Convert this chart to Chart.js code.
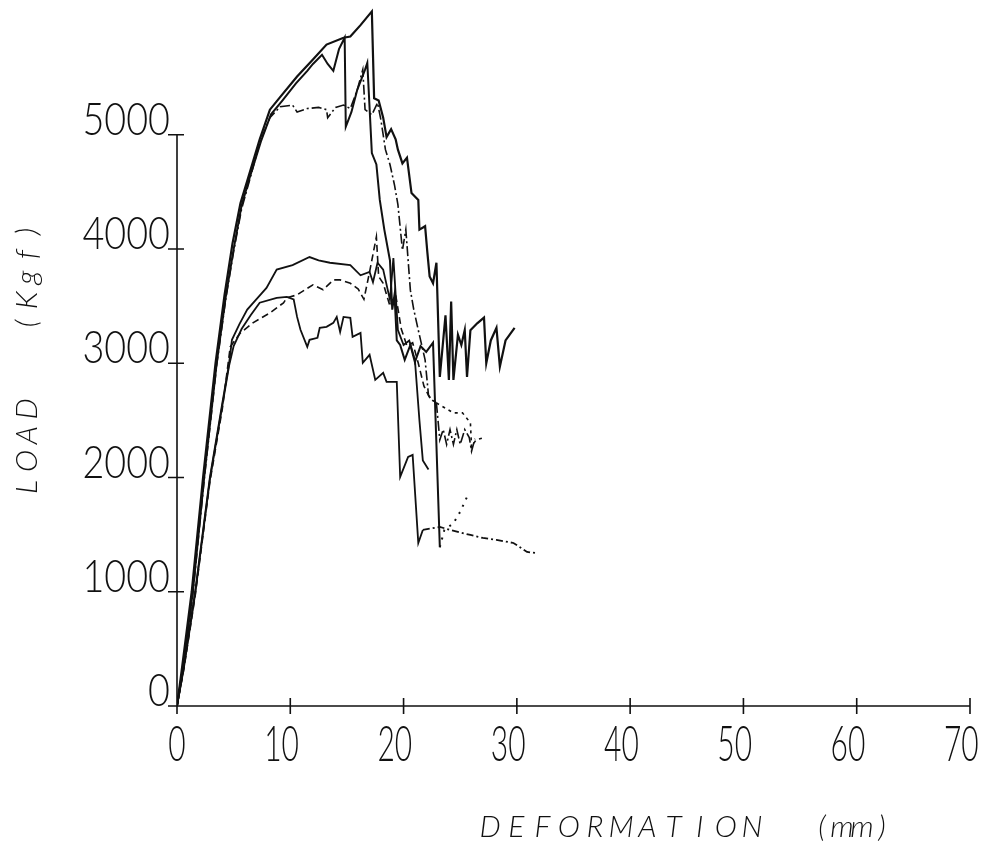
<!DOCTYPE html>
<html lang="en">

<head>
    <meta charset="UTF-8">
    <title>Load x Deformation</title>
    <!--Link ChartJs-->
    <script src="https://cdn.jsdelivr.net/npm/chart.js"></script>
    <style>
        body { margin: 0; background: #fff; }
        #caixa { width: 985px; height: 844px; }
    </style>
</head>

<body>
    <div id="caixa">
        <canvas id="grafico" width="985" height="844"></canvas>
    </div>

<script>
    // ticks dos eixos
    const xTicks = [0, 10, 20, 30, 40, 50, 60, 70];
    const yTicks = [0, 1000, 2000, 3000, 4000, 5000];

    // corpo de prova A (pico mais alto, termina oscilando ~3300)
    const defA = [0, 0.4, 1.3, 2.3, 3.4, 4.2, 4.9, 5.6, 6.3, 7.3, 8.2, 9.1, 10.6, 12.0, 13.2, 14.7, 15.3, 16.2, 17.2,
        17.4, 17.8, 18.2, 18.5, 18.9, 19.3, 19.5, 19.9, 20.3, 20.7, 21.3, 21.4, 21.9, 22.1, 22.3, 22.6, 22.9,
        23.2, 23.7, 24.0, 24.2, 24.4, 24.8, 25.1, 25.4, 25.6, 25.9, 26.5, 27.1, 27.3, 27.7, 28.2, 28.5, 29.0, 29.8];
    const cargaA = [0, 300, 1000, 2000, 3000, 3600, 4050, 4400, 4630, 4960, 5220, 5330, 5510, 5660, 5790, 5850, 5860, 5960, 6080,
        5320, 5300, 5150, 4980, 5050, 4960, 4870, 4750, 4800, 4490, 4430, 4170, 4200, 3970, 3760, 3700, 3880,
        2880, 3420, 2855, 3540, 2855, 3250, 3160, 3290, 2880, 3290, 3350, 3400, 3000, 3200, 3310, 2970, 3200, 3310];

    // corpo de prova B (cai para ~1400 e sobe pontilhado)
    const defB = [0, 0.5, 1.4, 2.4, 3.5, 4.3, 5.0, 5.7, 6.4, 7.4, 8.3, 9.3, 10.5, 11.5, 12.0, 12.8, 13.3, 13.8, 14.3, 14.8,
        14.9, 15.4, 15.9, 16.6, 16.8, 17.2, 17.6, 17.9, 18.3, 18.8, 19.0, 19.2, 19.4, 19.7, 20.1, 20.6, 21.0, 21.5,
        22.0, 22.6, 23.2, 23.6, 24.4, 25.0, 25.6];
    const cargaB = [0, 320, 1000, 2000, 3000, 3580, 4000, 4380, 4620, 4940, 5180, 5300, 5450, 5560, 5620, 5700, 5620, 5560, 5750, 5850,
        5070, 5200, 5390, 5570, 5630, 4840, 4740, 4430, 4170, 3900, 3470, 3600, 3200, 3160, 3030, 3160, 3010, 3150,
        3100, 3180, 1390, 1540, 1600, 1700, 1830];

    // corpo de prova C (patamar ~5250)
    const defC = [0, 0.5, 1.4, 2.4, 3.5, 4.3, 5.0, 5.7, 6.4, 7.3, 8.2, 9.1, 10.2, 10.6, 11.5, 12.5, 13.2, 13.3, 14.0, 14.7,
        15.3, 15.9, 16.4, 16.6, 17.2, 17.7, 18.0, 18.4, 18.8, 19.2, 19.5, 19.9, 20.2, 20.6, 20.9, 21.3, 21.6, 21.9,
        22.2, 22.5, 22.9, 23.2, 23.5, 23.8, 24.1, 24.4, 24.7, 25.0, 25.4, 25.8, 26.0, 26.3];
    const cargaC = [0, 280, 980, 1980, 2980, 3560, 3980, 4350, 4600, 4930, 5150, 5245, 5260, 5200, 5230, 5240, 5220, 5150, 5240, 5260,
        5230, 5390, 5570, 5220, 5175, 5280, 5130, 4870, 4740, 4560, 4390, 3990, 4170, 3640, 3470, 3290, 3160, 3030,
        2720, 2680, 2650, 2330, 2420, 2290, 2420, 2290, 2420, 2290, 2420, 2350, 2230, 2340];

    // corpo de prova D (pico ~3900)
    const defD = [0, 0.6, 1.6, 2.9, 4.0, 4.6, 4.85, 5.5, 6.2, 7.0, 7.9, 8.8, 10.2, 11.7, 12.5, 13.5, 15.3, 16.2, 17.0, 17.3,
        17.7, 18.2, 18.8, 19.1, 19.5, 20.0, 20.5, 21.0, 21.4, 21.7, 22.2];
    const cargaD = [0, 350, 1000, 2000, 2650, 3000, 3205, 3340, 3470, 3560, 3660, 3820, 3860, 3930, 3900, 3880, 3860, 3770, 3800, 3710,
        3880, 3820, 3555, 3920, 3290, 3160, 3200, 3030, 2500, 2150, 2070];

    // corpo de prova E (pico ~3580, escadas, termina ~1340)
    const defE = [0, 0.6, 1.6, 2.9, 4.0, 4.6, 5.0, 5.7, 6.5, 7.3, 8.8, 9.7, 10.3, 10.6, 10.9, 11.5, 11.7, 12.4, 12.6, 13.2,
        13.8, 14.1, 14.4, 14.7, 15.3, 15.5, 16.2, 16.4, 17.0, 17.5, 18.2, 18.5, 19.4, 19.7, 20.4, 20.8, 21.3, 21.7,
        23.2, 24.1, 25.9, 27.0, 28.2, 29.7, 30.9, 31.6];
    const cargaE = [0, 330, 980, 1980, 2630, 2980, 3150, 3300, 3420, 3530, 3573, 3582, 3560, 3406, 3293, 3144, 3205, 3223, 3310, 3319,
        3354, 3406, 3275, 3406, 3398, 3231, 3266, 3004, 3074, 2855, 2916, 2837, 2837, 2005, 2180, 2198, 1427, 1541,
        1568, 1541, 1497, 1471, 1454, 1427, 1349, 1340];

    // corpo de prova F (tracejado, pico ~4100, termina ~2350)
    const defF = [0, 0.6, 1.6, 2.9, 4.0, 4.7, 5.6, 6.7, 8.2, 9.4, 9.7, 10.6, 12.0, 12.9, 13.8, 14.4, 15.3, 16.0, 16.5, 17.0,
        17.6, 17.8, 18.2, 18.8, 19.3, 19.8, 20.3, 20.8, 21.3, 21.8, 22.3, 22.9, 24.4, 25.2, 25.9, 26.0, 26.4, 27.0];
    const cargaF = [0, 320, 960, 1960, 2600, 3144, 3266, 3354, 3441, 3529, 3573, 3599, 3687, 3643, 3730, 3730, 3700, 3650, 3560, 3800,
        4107, 3760, 3700, 3500, 3600, 3300, 3150, 3180, 3000, 2800, 2700, 2653, 2566, 2566, 2478, 2268, 2330, 2347];

    function pontos(xs, ys) {
        return xs.map(function (v, i) { return { x: v, y: ys[i] }; });
    }

    // depois de "apartir" (mm) a linha vira pontilhada
    function serie(nome, xs, ys, largura, traco, apartir, tracoFinal) {
        return {
            label: nome,
            data: pontos(xs, ys),
            borderColor: '#111',
            borderWidth: largura,
            borderDash: traco,
            pointRadius: 0,
            tension: 0,
            fill: false,
            segment: {
                borderDash: function (c) {
                    return (apartir !== undefined && c.p0.parsed.x >= apartir) ? tracoFinal : undefined;
                }
            }
        };
    }

    // desenha letras espaçadas (fonte de plotter)
    function textoEspacado(ctx, texto, x, y, passo) {
        for (let i = 0; i < texto.length; i++) {
            ctx.fillText(texto[i], x + i * passo + passo / 2, y);
        }
    }

    const eixosPlotter = {
        id: 'eixosPlotter',
        afterDraw(chart) {
            const ctx = chart.ctx;
            const sx = chart.scales.x;
            const sy = chart.scales.y;
            const x0 = sx.getPixelForValue(0);
            const y0 = sy.getPixelForValue(0);

            ctx.save();
            ctx.strokeStyle = '#111';
            ctx.lineWidth = 1.6;
            ctx.beginPath();
            ctx.moveTo(x0, y0);
            ctx.lineTo(sx.getPixelForValue(xTicks[xTicks.length - 1]), y0);
            ctx.moveTo(x0, y0);
            ctx.lineTo(x0, sy.getPixelForValue(yTicks[yTicks.length - 1]));
            xTicks.forEach(function (v) {
                const p = sx.getPixelForValue(v);
                ctx.moveTo(p, y0 - 8);
                ctx.lineTo(p, y0 + 8);
            });
            yTicks.forEach(function (v) {
                const p = sy.getPixelForValue(v);
                ctx.moveTo(x0 - 9, p);
                ctx.lineTo(x0 + 7, p);
            });
            ctx.stroke();

            ctx.fillStyle = '#111';
            ctx.textBaseline = 'alphabetic';

            // rótulos eixo x
            ctx.font = '300 50px Lato';
            const escX = 0.6;
            xTicks.forEach(function (v) {
                const txt = String(v);
                const p = sx.getPixelForValue(v);
                const wUlt = ctx.measureText(txt.slice(-1)).width * escX;
                ctx.save();
                ctx.translate(p + wUlt / 2, y0 + 55);
                ctx.scale(escX, 1);
                ctx.textAlign = 'right';
                ctx.fillText(txt, 0, 0);
                ctx.restore();
            });

            // rótulos eixo y
            ctx.font = '300 46px Lato';
            const escY = 0.82;
            yTicks.forEach(function (v) {
                const p = sy.getPixelForValue(v);
                ctx.save();
                ctx.translate(x0 - 7, p);
                ctx.scale(escY, 1);
                ctx.textAlign = 'right';
                ctx.fillText(String(v), 0, 0);
                ctx.restore();
            });

            // títulos
            ctx.font = 'italic 300 30px Lato';
            ctx.textAlign = 'center';
            textoEspacado(ctx, 'DEFORMATION', 477, 837, 26.2);
            textoEspacado(ctx, '(mm)', 812, 837, 20);

            ctx.save();
            ctx.translate(37, 500);
            ctx.rotate(-Math.PI / 2);
            textoEspacado(ctx, 'LOAD', 0, 0, 26);
            textoEspacado(ctx, '(Kgf)', 165, 0, 23);
            ctx.restore();

            ctx.restore();
        }
    };

    const config = {
        type: 'line',
        data: {
            datasets: [
                serie('A', defA, cargaA, 2.2, []),
                serie('B', defB, cargaB, 2.0, [], 23.2, [2, 6]),
                serie('C', defC, cargaC, 1.6, [10, 3, 2, 3]),
                serie('D', defD, cargaD, 1.8, []),
                serie('E', defE, cargaE, 1.8, [], 21.7, [7, 3, 2, 3]),
                serie('F', defF, cargaF, 1.6, [7, 4], 22.9, [3, 4])
            ]
        },
        options: {
            responsive: false,
            animation: false,
            layout: { padding: { left: 177, right: 15, top: 0, bottom: 138 } },
            plugins: {
                legend: { display: false },
                tooltip: { enabled: false }
            },
            scales: {
                x: { type: 'linear', min: 0, max: 70, display: false },
                y: { type: 'linear', min: 0, max: 6180, display: false }
            }
        },
        plugins: [eixosPlotter]
    };

    let myChart = new Chart(document.getElementById('grafico'), config);
</script>
</body>

</html>
